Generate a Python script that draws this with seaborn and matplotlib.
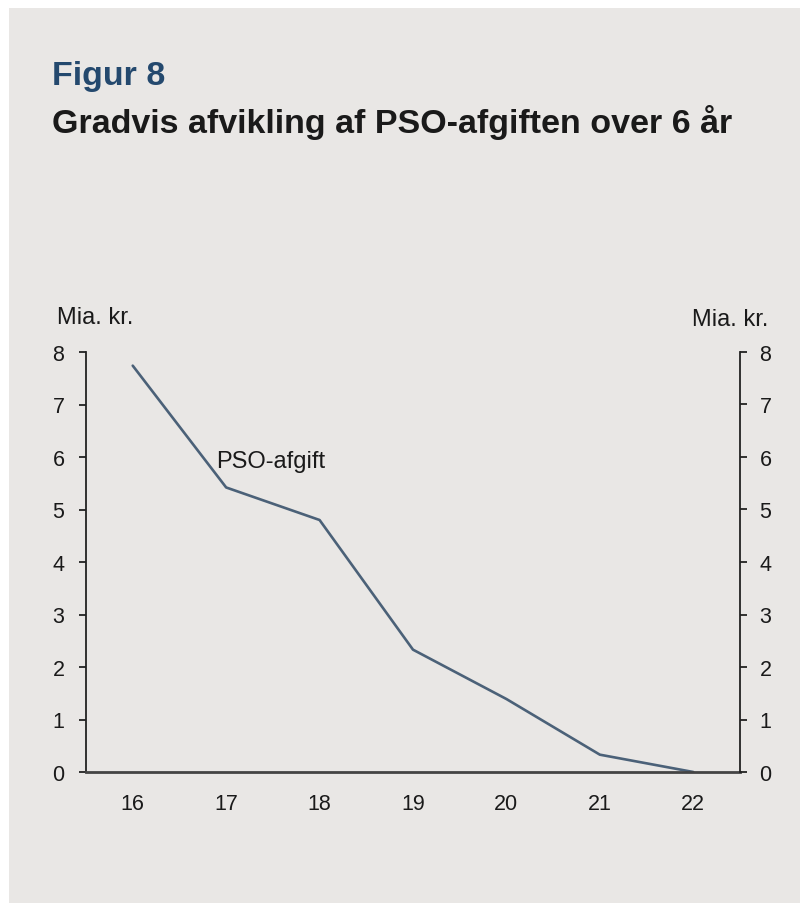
import numpy as np
import pandas as pd
import matplotlib
matplotlib.use('Agg')
import matplotlib.pyplot as plt
import seaborn as sns

# data
years = [16, 17, 18, 19, 20, 21, 22]
pso = [7.74, 5.42, 4.80, 2.33, 1.39, 0.33, 0.0]

df = pd.DataFrame({'year': years, 'pso': pso})

bg = '#e9e7e5'
line_col = '#4b6178'
txt_col = '#1a1a1a'

sns.set_style('white')
plt.rcParams['font.family'] = ['Liberation Sans', 'DejaVu Sans']

fig = plt.figure(figsize=(8, 9.04), dpi=100)
fig.patch.set_facecolor('white')
# grey panel
fig.patches.append(plt.Rectangle((9 / 800, 0), 1, 1 - 9 / 904, transform=fig.transFigure,
                                 facecolor=bg, edgecolor='none', zorder=-10))

ax = fig.add_axes([86 / 800, 131 / 904, 654 / 800, 420 / 904])
ax.set_facecolor(bg)

sns.lineplot(data=df, x='year', y='pso', ax=ax, color=line_col, linewidth=1.9)

ax.set_xlim(15.5, 22.5)
ax.set_ylim(0, 8)
ax.set_xlabel('')
ax.set_ylabel('')

# ticks at boundaries, labels centred
ax.set_xticks(np.arange(15.5, 23, 1))
ax.set_xticklabels([])
ax.set_xticks(years, minor=True)
ax.set_xticklabels([str(y) for y in years], minor=True)
ax.tick_params(axis='x', which='major', direction='out', length=5, width=1.3, color='#222222')
ax.tick_params(axis='x', which='minor', length=0, pad=15, labelsize=15.5, labelcolor=txt_col)

ax.set_yticks(range(0, 9))
ax.tick_params(axis='y', direction='out', length=5, width=1.3, color='#222222',
               labelsize=15.5, labelcolor=txt_col, pad=10.5)

for s in ['top', 'right']:
    ax.spines[s].set_visible(False)
ax.spines['left'].set_color('#222222')
ax.spines['left'].set_linewidth(1.3)
ax.spines['bottom'].set_color('#444444')
ax.spines['bottom'].set_linewidth(2.0)

ax2 = ax.twinx()
ax2.set_ylim(0, 8)
ax2.set_yticks(range(0, 9))
ax2.tick_params(axis='y', direction='out', length=5, width=1.3, color='#222222',
                labelsize=15.5, labelcolor=txt_col, pad=9)
for s in ['top', 'left', 'bottom']:
    ax2.spines[s].set_visible(False)
ax2.spines['right'].set_color('#222222')
ax2.spines['right'].set_linewidth(1.3)

ax.text(17.48, 5.92, 'PSO-afgift', fontsize=17, color=txt_col, ha='center', va='center')

fig.text(57 / 800, 1 - 318 / 904, 'Mia. kr.', fontsize=17, color=txt_col, ha='left', va='center')
fig.text(768 / 800, 1 - 320 / 904, 'Mia. kr.', fontsize=17, color=txt_col, ha='right', va='center')

fig.text(52 / 800, 1 - 77 / 904, 'Figur 8', fontsize=24.5, fontweight='bold', color='#24496e',
         ha='left', va='center')
fig.text(52 / 800, 1 - 122 / 904, 'Gradvis afvikling af PSO-afgiften over 6 år', fontsize=24.5,
         fontweight='bold', color=txt_col, ha='left', va='center')

fig.savefig('out.png', dpi=100, facecolor=fig.get_facecolor())
